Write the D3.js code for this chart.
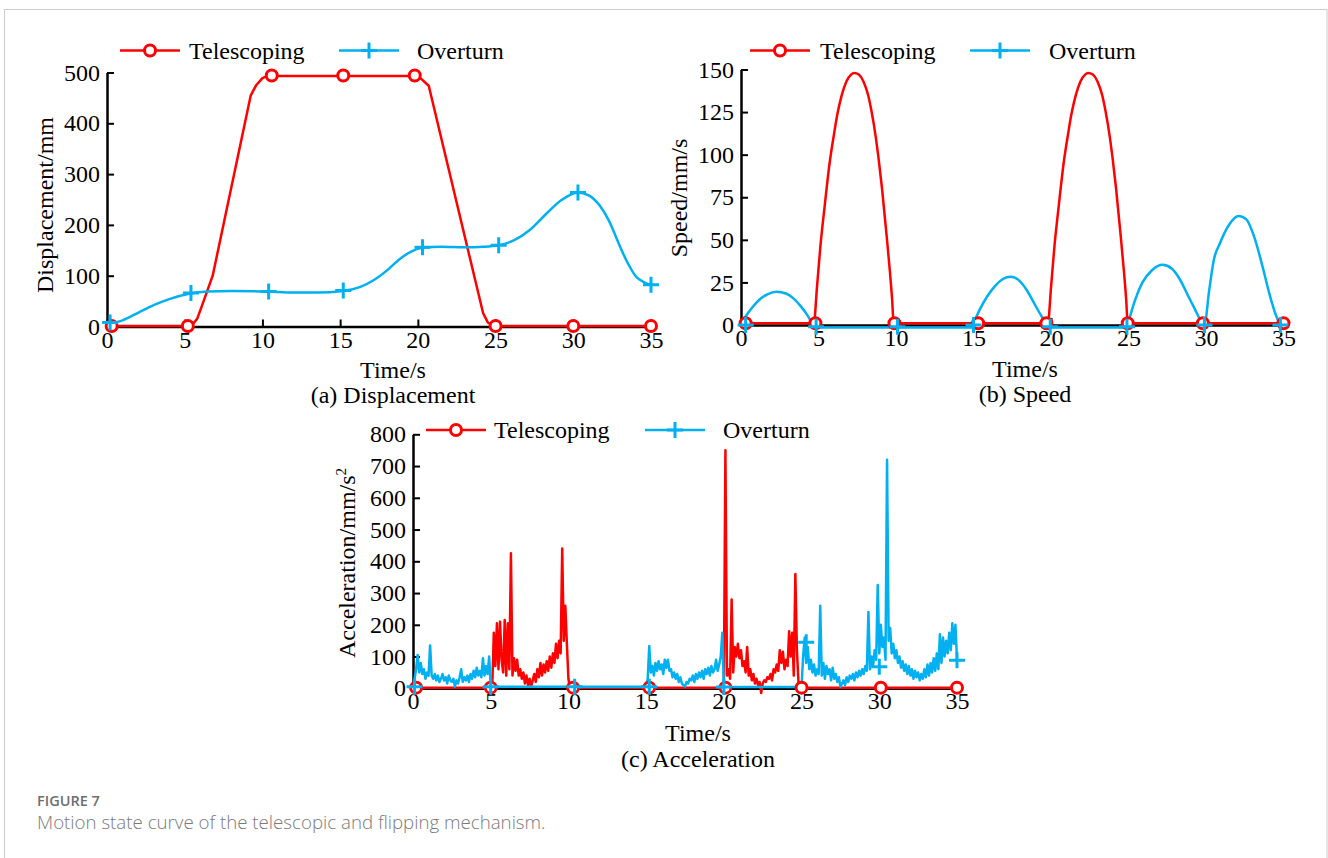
<!DOCTYPE html>
<html>
<head>
<meta charset="utf-8">
<script src="https://cdn.jsdelivr.net/npm/d3@7"></script>
<style>
body { margin: 0; background: #fff; }
</style>
</head>
<body>
<div id="viz"></div>
<script>
// ---------- data ----------
const seriesNames = ["Telescoping", "Overturn"];
const timeTicks = [0, 5, 10, 15, 20, 25, 30, 35];
const dispTicks = [0, 100, 200, 300, 400, 500];
const speedTicks = [0, 25, 50, 75, 100, 125, 150];
const accTicks = [0, 100, 200, 300, 400, 500, 600, 700, 800];

// (a) displacement, mm
const dispTelT = [0, 5.2, 5.5, 5.8, 6.1, 6.8, 9.25, 9.6, 10.0, 10.3, 19.8, 20.2, 20.7, 24.2, 24.5, 24.8, 25.0, 35];
const dispTelV = [1, 1, 4, 15, 40, 100, 455, 475, 489, 493, 493, 488, 474, 26, 8, 2, 1, 1];
const dispOvT = [0, 1, 2, 3, 4, 5.2, 6.5, 8, 10.3, 12, 13.5, 15.2, 16.3, 17.2, 18, 18.8, 19.6, 20.3, 21.5, 23, 24.2, 25.2, 26.2, 27.2, 28.2, 29.2, 30.3, 31.0, 31.7, 32.3, 32.9, 33.5, 34.1, 34.5, 35];
const dispOvV = [5, 12, 27, 42, 54, 64, 69, 70, 69, 67, 67, 70, 78, 92, 110, 132, 148, 155, 157, 156, 157, 160, 170, 190, 220, 248, 264, 258, 238, 208, 165, 125, 96, 88, 82];
const dispTelMarkT = [0.3, 5.2, 10.6, 15.2, 19.8, 25.0, 30.0, 35.0];
const dispTelMarkV = [1, 1, 494, 494, 494, 1, 1, 1];
const dispOvMarkT = [0.2, 5.4, 10.4, 15.2, 20.3, 25.2, 30.3, 35.0];
const dispOvMarkV = [8, 66, 69, 71, 156, 160, 264, 82];

// (b) speed, mm/s
const speedTelT = [0, 4.7, 4.9, 5.13, 5.4, 5.73, 6.0, 6.2, 6.5, 6.8, 7.1, 7.3, 7.6, 7.9, 8.2, 8.43, 8.7, 8.86, 9.1, 9.4, 9.6, 9.75, 9.85,
  19.8, 20.0, 20.23, 20.5, 20.83, 21.1, 21.3, 21.6, 21.9, 22.2, 22.4, 22.7, 23.0, 23.3, 23.53, 23.8, 23.96, 24.2, 24.5, 24.7, 24.85, 24.95, 35];
const speedTelV = [1, 1, 22, 47, 70, 96, 112, 123, 135, 143, 147, 148, 147, 143, 135, 125, 110, 99, 80, 52, 32, 15, 1,
  1, 22, 47, 70, 96, 112, 123, 135, 143, 147, 148, 147, 143, 135, 125, 110, 99, 80, 52, 32, 15, 1, 1];
const speedOvT = [0, 0.3, 0.7, 1.2, 1.7, 2.3, 2.9, 3.4, 3.9, 4.3, 4.6, 4.8,
  14.9, 15.1, 15.4, 15.9, 16.4, 16.9, 17.4, 17.9, 18.4, 18.9, 19.4, 19.7, 19.85,
  24.9, 25.1, 25.4, 25.9, 26.5, 27.2, 27.8, 28.3, 28.8, 29.3, 29.7,
  29.9, 30.2, 30.5, 30.9, 31.5, 32.1, 32.6, 33.1, 33.6, 34.1, 34.5, 34.8, 35];
const speedOvV = [0, 5, 10, 15, 18, 19.5, 18.5, 15.5, 10.5, 5.5, 1, -1.5,
  -1.5, 3, 9, 17, 23, 27, 28.3, 26.5, 21, 13, 5, 1, -1.5,
  -1.5, 5, 14, 25, 32, 35.3, 33, 27, 18, 9, 2,
  0, 20, 38, 48, 59, 64, 62, 52, 36, 18, 6, 0, -1.5];
const speedTelMarkT = [0.3, 4.8, 9.9, 15.3, 19.7, 24.95, 29.8, 35.0];
const speedTelMarkV = [1, 1, 1, 1, 1, 1, 1, 1];
const speedOvMarkT = [0.3, 4.85, 10.1, 15.0, 19.95, 24.9, 29.9, 34.8];
const speedOvMarkV = [0, -1, -1, 0, -1, -1, 0, 0];

// (c) acceleration, mm/s^2, sampled every 0.1 s inside each active segment
const accStep = 0.1;
const accTelStarts = [5.0, 19.8];
const accTelA = [2, 8, 175, 70, 205, 60, 210, 90, 50, 215, 40, 205, 60, 425, 40, 95, 55, 90, 40, 60,
  30, 50, 15, 40, 10, 30, 5, 25, 45, 20, 60, 35, 80, 40, 75, 50, 85, 55, 100, 65,
  110, 80, 140, 95, 150, 110, 440, 150, 260, 140, 30, 2, 2, 2];
const accTelB = [2, 2, 2, 750, 40, 60, 30, 280, 50, 130, 100, 140, 95, 120, 70, 85, 50, 130, 40, 60,
  25, 45, 15, 30, 10, 20, -15, 15, 25, 20, 35, 30, 45, 25, 60, 50, 75, 55, 120, 80,
  115, 60, 90, 70, 180, 100, 175, 40, 360, 120, 20, 2, 2];
const accTelEdgeT = [0, 35];
const accTelEdgeV = [2, 2];
const accOvStarts = [0, 15.0, 25.0];
const accOvA = [5, 30, 60, 105, 50, 80, 45, 60, 30, 50, 40, 135, 40, 30, 45, 25, 40, 20, 30, 45,
  25, 35, 15, 40, 25, 20, 30, 5, 25, 15, 35, 60, 20, 35, 25, 40, 20, 45, 30, 55,
  35, 65, 40, 55, 35, 95, 40, 70, 45, 100, 5];
const accOvB = [5, 30, 133, 50, 70, 40, 80, 55, 85, 60, 75, 45, 90, 65, 90, 55, 60, 35, 50, 30,
  45, 20, 35, 15, 10, 5, 20, 15, 30, 25, 40, 20, 45, 30, 50, 35, 55, 30, 60, 45,
  65, 40, 70, 50, 60, 90, 55, 75, 100, 175, 4];
const accOvC = [4, 100, 160, 80, 130, 60, 90, 50, 75, 40,
  60, 45, 260, 40, 80, 30, 70, 45, 60, 25,
  65, 30, 45, 20, 35, 5, 15, 25, 10, 35,
  20, 40, 30, 45, 25, 50, 35, 55, 40, 60,
  45, 70, 55, 240, 60, 100, 70, 120, 90, 325,
  110, 200, 130, 160, 90, 720, 150, 190, 110, 140,
  95, 120, 80, 100, 65, 85, 55, 75, 45, 70,
  40, 60, 30, 55, 35, 50, 25, 45, 30, 60,
  35, 75, 40, 80, 50, 95, 55, 110, 60, 170,
  80, 160, 100, 150, 110, 175, 120, 205, 140, 200,
  90];
const accTelMarkT = [0.2, 5.0, 10.3, 15.2, 20.1, 25.0, 30.1, 35.0];
const accTelMarkV = [2, 2, 2, 2, 2, 2, 2, 2];
const accOvMarkT = [0.1, 5.0, 10.4, 15.2, 20.0, 25.3, 30.0, 35.0];
const accOvMarkV = [5, 5, 5, 5, 4, 145, 68, 88];

// ---------- page ----------
const width = 1328;
const height = 858;
const FONT = "'Liberation Serif', 'Times New Roman', serif";
const RED = "#ff0000";
const BLUE = "#00b0f0";
const FS = 24;

var svg = d3.select("#viz")
  .append("svg")
  .attr("width", width)
  .attr("height", height)
  .style("font-family", FONT);

// light frame round the figure
svg.append("rect")
  .attr("x", 4.5).attr("y", 9.5)
  .attr("width", 1322.5).attr("height", 900)
  .attr("fill", "none")
  .attr("stroke", "#cccccc");

// zip two arrays into points
function pts(ts, vs) {
  return ts.map(function (t, i) { return {t: t, v: vs[i]}; });
}

// segments sampled on a fixed step
function segPts(starts, segs) {
  var out = [];
  segs.forEach(function (seg, k) {
    seg.forEach(function (v, i) { out.push({t: +(starts[k] + i * accStep).toFixed(2), v: v}); });
  });
  return out;
}

// axes, labels and legend for one panel
function panel(p) {
  const x = d3.scaleLinear().domain([0, 35]).range([p.left, p.right]);
  const y = d3.scaleLinear().domain([0, p.yMax]).range([p.bottom, p.top]);
  const g = svg.append("g");

  const xAxis = g.append("g")
    .attr("transform", "translate(0," + p.bottom + ")")
    .call(d3.axisBottom(x).tickValues(timeTicks).tickSizeInner(-7).tickSizeOuter(0).tickPadding(4));
  const yAxis = g.append("g")
    .attr("transform", "translate(" + p.left + ",0)")
    .call(d3.axisLeft(y).tickValues(p.yTicks).tickSizeInner(-7).tickSizeOuter(0).tickPadding(7));

  [xAxis, yAxis].forEach(function (a) {
    a.attr("font-family", FONT).attr("font-size", FS);
    a.select(".domain").attr("stroke", "#000").attr("stroke-width", 2.5);
    a.selectAll(".tick line").attr("stroke", "#000").attr("stroke-width", 2);
    a.selectAll(".tick text").attr("fill", "#000");
  });

  // x label and panel caption
  g.append("text")
    .attr("x", p.labelX).attr("y", p.timeY)
    .attr("text-anchor", "middle").attr("font-size", FS)
    .text("Time/s");
  g.append("text")
    .attr("x", p.labelX).attr("y", p.capY)
    .attr("text-anchor", "middle").attr("font-size", FS)
    .text(p.caption);

  // y label
  const yl = g.append("text")
    .attr("transform", "rotate(-90)")
    .attr("x", -p.yLabelY).attr("y", p.yLabelX)
    .attr("text-anchor", p.yLabelAnchor || "middle")
    .attr("font-size", FS);
  yl.append("tspan").text(p.yLabel);
  if (p.yLabelSup) {
    yl.append("tspan").attr("dy", -9).attr("font-size", 15).text(p.yLabelSup);
  }

  // legend
  const lg = g.append("g");
  lg.append("line").attr("x1", p.leg[0]).attr("x2", p.leg[0] + 60)
    .attr("y1", p.legY).attr("y2", p.legY)
    .attr("stroke", RED).attr("stroke-width", 2.5);
  circles(lg, [{t: 0, v: 0}], function () { return p.leg[0] + 30; }, function () { return p.legY; });
  lg.append("text").attr("x", p.leg[1]).attr("y", p.legY).attr("dy", "0.35em")
    .attr("font-size", FS).text(seriesNames[0]);
  lg.append("line").attr("x1", p.leg[2]).attr("x2", p.leg[2] + 60)
    .attr("y1", p.legY).attr("y2", p.legY)
    .attr("stroke", BLUE).attr("stroke-width", 2.5);
  pluses(lg, [{t: 0, v: 0}], function () { return p.leg[2] + 30; }, function () { return p.legY; });
  lg.append("text").attr("x", p.leg[3]).attr("y", p.legY).attr("dy", "0.35em")
    .attr("font-size", FS).text(seriesNames[1]);

  return {x: x, y: y, g: g};
}

function curve(pn, data, color, shape) {
  pn.g.append("path")
    .datum(data)
    .attr("fill", "none")
    .attr("stroke", color)
    .attr("stroke-width", 2.5)
    .attr("stroke-linejoin", "round")
    .attr("d", d3.line()
      .x(function (d) { return pn.x(d.t); })
      .y(function (d) { return pn.y(d.v); })
      .curve(shape || d3.curveLinear));
}

function circles(g, data, fx, fy) {
  g.selectAll(null).data(data).enter()
    .append("circle")
    .attr("cx", fx).attr("cy", fy).attr("r", 5.5)
    .attr("fill", "#fff").attr("stroke", RED).attr("stroke-width", 3);
}

function pluses(g, data, fx, fy) {
  g.selectAll(null).data(data).enter()
    .append("path")
    .attr("transform", function (d) { return "translate(" + fx(d) + "," + fy(d) + ")"; })
    .attr("d", "M-8,0H8M0,-8V8")
    .attr("stroke", BLUE).attr("stroke-width", 3).attr("fill", "none");
}

function markers(pn, tT, tV, oT, oV) {
  circles(pn.g, pts(tT, tV), function (d) { return pn.x(d.t); }, function (d) { return pn.y(d.v); });
  pluses(pn.g, pts(oT, oV), function (d) { return pn.x(d.t); }, function (d) { return pn.y(d.v); });
}

// (a) Displacement
const pa = panel({
  left: 107, right: 651, top: 72.5, bottom: 326.5, yMax: 500, yTicks: dispTicks,
  yLabel: "Displacement/mm", yLabelX: 53, yLabelY: 205,
  labelX: 393, timeY: 378, capY: 403, caption: "(a) Displacement",
  legY: 50.5, leg: [120, 189, 339, 417]
});
curve(pa, pts(dispTelT, dispTelV), RED);
curve(pa, pts(dispOvT, dispOvV), BLUE, d3.curveMonotoneX);
markers(pa, dispTelMarkT, dispTelMarkV, dispOvMarkT, dispOvMarkV);

// (b) Speed
const pb = panel({
  left: 741, right: 1283.5, top: 69.5, bottom: 325, yMax: 150, yTicks: speedTicks,
  yLabel: "Speed/mm/s", yLabelX: 687, yLabelY: 198,
  labelX: 1025, timeY: 377, capY: 402, caption: "(b) Speed",
  legY: 50.5, leg: [750, 820, 970, 1049]
});
curve(pb, pts(speedTelT, speedTelV), RED, d3.curveMonotoneX);
curve(pb, pts(speedOvT, speedOvV), BLUE, d3.curveMonotoneX);
markers(pb, speedTelMarkT, speedTelMarkV, speedOvMarkT, speedOvMarkV);

// (c) Acceleration
const pc = panel({
  left: 413, right: 957, top: 434.3, bottom: 688.3, yMax: 800, yTicks: accTicks,
  yLabel: "Acceleration/mm/s", yLabelSup: "2", yLabelX: 355, yLabelY: 658, yLabelAnchor: "start",
  labelX: 698, timeY: 741, capY: 767, caption: "(c) Acceleration",
  legY: 430, leg: [426, 494, 645, 723]
});
const accTel = [pts(accTelEdgeT, accTelEdgeV)[0]]
  .concat(segPts(accTelStarts, [accTelA, accTelB]))
  .concat([pts(accTelEdgeT, accTelEdgeV)[1]]);
const accOv = segPts(accOvStarts, [accOvA, accOvB, accOvC]);
curve(pc, accTel, RED);
curve(pc, accOv, BLUE);
markers(pc, accTelMarkT, accTelMarkV, accOvMarkT, accOvMarkV);

// figure caption
svg.append("text")
  .attr("x", 37).attr("y", 806)
  .attr("font-family", "'Open Sans', sans-serif")
  .attr("font-size", 14.5).attr("font-weight", 600)
  .attr("fill", "#6e6e6e")
  .text("FIGURE 7");
svg.append("text")
  .attr("x", 37).attr("y", 829)
  .attr("font-family", "'Open Sans', sans-serif")
  .attr("font-size", 18.7).attr("font-weight", 300)
  .attr("fill", "#7a7a7a")
  .text("Motion state curve of the telescopic and flipping mechanism.");
</script>
</body>
</html>
